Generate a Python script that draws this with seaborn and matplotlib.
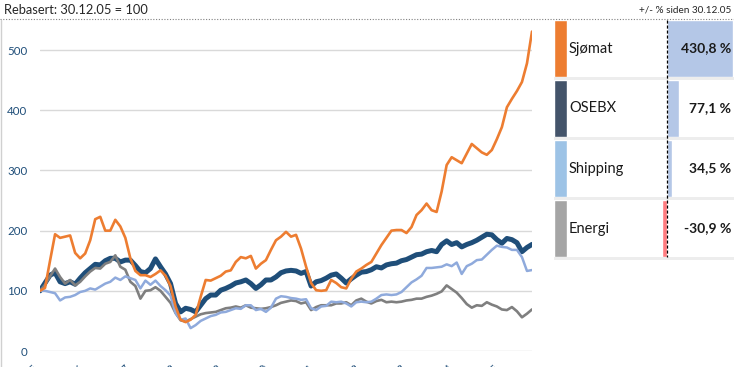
import matplotlib
matplotlib.use("Agg")
import matplotlib.pyplot as plt
from matplotlib.lines import Line2D
import pandas as pd
import seaborn as sns

# indeksert kurs, rebasert 30.12.05 = 100 (lest av bildet)
sjomat = [
    100, 105, 150, 194, 188, 190, 192, 163, 154, 162,
    184, 219, 223, 200, 200, 218, 207, 188, 154, 133,
    126, 126, 123, 128, 134, 125, 108, 74, 52, 48,
    52, 60, 90, 118, 117, 121, 125, 132, 134, 148,
    156, 154, 158, 137, 145, 151, 168, 184, 190, 198,
    190, 193, 170, 140, 113, 101, 100, 101, 118, 113,
    106, 104, 120, 132, 137, 143, 148, 162, 176, 188,
    200, 201, 201, 196, 206, 226, 234, 245, 234, 231,
    265, 309, 322, 317, 312, 328, 344, 337, 330, 326,
    334, 352, 372, 405, 419, 432, 447, 478, 530.8,
]
osebx = [
    100, 113, 126, 130, 115, 112, 115, 111, 121, 130,
    137, 144, 143, 150, 154, 154, 148, 151, 151, 142,
    132, 130, 137, 153, 140, 128, 112, 79, 65, 71,
    69, 65, 76, 87, 93, 93, 101, 104, 108, 113,
    115, 118, 112, 104, 110, 118, 118, 123, 130, 133,
    134, 133, 129, 132, 108, 115, 117, 121, 126, 128,
    121, 113, 120, 126, 131, 132, 135, 140, 138, 143,
    145, 146, 150, 152, 156, 160, 161, 165, 167, 165,
    177, 183, 177, 180, 173, 177, 180, 184, 189, 194,
    193, 185, 179, 187, 185, 180, 165, 172, 177.1,
]
shipping = [
    100, 100, 98, 96, 84, 89, 90, 93, 98, 100,
    104, 102, 107, 112, 115, 122, 118, 124, 121, 118,
    104, 117, 110, 117, 108, 101, 92, 63, 52, 54,
    38, 43, 50, 54, 58, 60, 64, 65, 68, 71,
    70, 76, 76, 68, 70, 65, 72, 87, 91, 90,
    88, 87, 85, 86, 71, 68, 74, 75, 82, 81,
    82, 79, 74, 81, 82, 81, 82, 87, 93, 94,
    93, 94, 98, 106, 114, 119, 125, 138, 138, 139,
    140, 144, 141, 147, 128, 141, 145, 151, 152, 160,
    168, 175, 173, 172, 168, 168, 156, 133, 134.5,
]
energi = [
    100, 110, 124, 137, 123, 112, 118, 109, 115, 124,
    132, 138, 137, 145, 148, 159, 140, 135, 115, 108,
    87, 100, 101, 106, 100, 90, 80, 63, 51, 49,
    53, 57, 61, 63, 64, 65, 68, 71, 72, 74,
    72, 76, 72, 71, 70, 71, 73, 76, 80, 82,
    84, 83, 79, 81, 68, 73, 76, 76, 76, 79,
    79, 81, 76, 84, 87, 82, 79, 83, 85, 81,
    82, 81, 82, 84, 85, 87, 87, 90, 92, 95,
    99, 109, 103, 97, 88, 78, 72, 76, 75, 81,
    77, 74, 69, 68, 73, 66, 56, 62, 69.1,
]

serier = ["Sjømat", "OSEBX", "Shipping", "Energi"]
endring = [430.8, 77.1, 34.5, -30.9]
datoer = pd.date_range("2005-12-30", "2016-08-31", periods=len(sjomat))
aarsticks = pd.date_range("2005-12-30", periods=11, freq=pd.DateOffset(years=1))

linjefarger = {"Sjømat": "#ED7D31", "OSEBX": "#1F4E79",
               "Shipping": "#8FAADC", "Energi": "#7F7F7F"}
linjebredde = {"Sjømat": 1.9, "OSEBX": 3.6, "Shipping": 1.8, "Energi": 1.9}
feltfarger = ["#ED7D31", "#44546A", "#9DC3E6", "#A5A5A5"]

sns.set_theme(style="white")
plt.rcParams["font.family"] = ["Lato", "DejaVu Sans"]

W, H = 734, 367
fig = plt.figure(figsize=(W / 100, H / 100), dpi=100)

# --- linjediagram ---
ax = fig.add_axes([40 / W, 16 / H, 492 / W, 331 / H])
verdier = {"Sjømat": sjomat, "OSEBX": osebx, "Shipping": shipping, "Energi": energi}
for z, navn in enumerate(["OSEBX", "Energi", "Shipping", "Sjømat"]):
    sns.lineplot(x=datoer, y=verdier[navn], ax=ax, color=linjefarger[navn],
                 lw=linjebredde[navn], zorder=3 + z)

ax.set_ylim(0, 550)
ax.set_yticks(range(0, 501, 100))
ax.set_xlim(datoer[0], datoer[-1])
ax.set_xticks(aarsticks)
ax.set_xticklabels([d.strftime("%d.%m.%y") for d in aarsticks], rotation=45,
                   ha="right", va="top")
ax.yaxis.grid(True, color="#D9D9D9", lw=1)
ax.xaxis.grid(False)
ax.set_axisbelow(True)
ax.tick_params(axis="both", length=0, labelsize=8.3, labelcolor="#1F4E79")
ax.tick_params(axis="y", pad=9)
ax.tick_params(axis="x", pad=8)
ax.set_xlabel("")
ax.set_ylabel("")
sns.despine(ax=ax, left=True, bottom=True)

# --- panel med endring ---
pax = fig.add_axes([554 / W, (H - 260) / H, 180 / W, 240 / H])
skala = 430.8 / 66
xmin = -(667 - 554) * skala
xmax = (734 - 667) * skala
df = pd.DataFrame({"serie": serier, "endring": endring})
bar_farger = ["#B4C7E7" if v >= 0 else "#FF7C80" for v in endring]
sns.barplot(data=df, x="endring", y="serie", hue="serie", palette=bar_farger,
            orient="h", width=0.95, saturation=1, legend=False, ax=pax)
pax.barh(range(4), (567 - 554) * skala, left=xmin, height=0.95, color=feltfarger)
for i in range(4):
    pax.axhspan(i + 0.475, i + 0.525, color="#EDEDED", lw=0)
pax.plot([0, 0], [-0.475, 3.475], color="black", lw=0.9, ls=(0, (2.5, 1.5)))
for i, (navn, v) in enumerate(zip(serier, endring)):
    pax.text((569 - 667) * skala, i, navn, va="center", ha="left",
             fontsize=10.5, color="#1a1a1a")
    pax.text((731 - 667) * skala, i, f"{v:.1f}".replace(".", ",") + " %",
             va="center", ha="right", fontsize=10, fontweight="bold", color="#1a1a1a")
pax.set_xlim(xmin, xmax)
pax.set_ylim(3.525, -0.475)
pax.axis("off")

# --- topptekst og rammer ---
fig.text(4 / W, 1 - 10 / H, "Rebasert: 30.12.05 = 100", va="center", ha="left",
         fontsize=9.3, color="#262626")
fig.text(731 / W, 1 - 10 / H, "+/- % siden 30.12.05", va="center", ha="right",
         fontsize=7.2, color="#262626")
fig.add_artist(Line2D([0, 1], [1 - 19 / H] * 2, transform=fig.transFigure,
                      color="#808080", lw=0.8, ls=(0, (1, 1.5))))
fig.add_artist(Line2D([1 / W] * 2, [0, 1 - 20 / H], transform=fig.transFigure,
                      color="#D0D0D0", lw=1))

fig.savefig("out.png", dpi=100)
